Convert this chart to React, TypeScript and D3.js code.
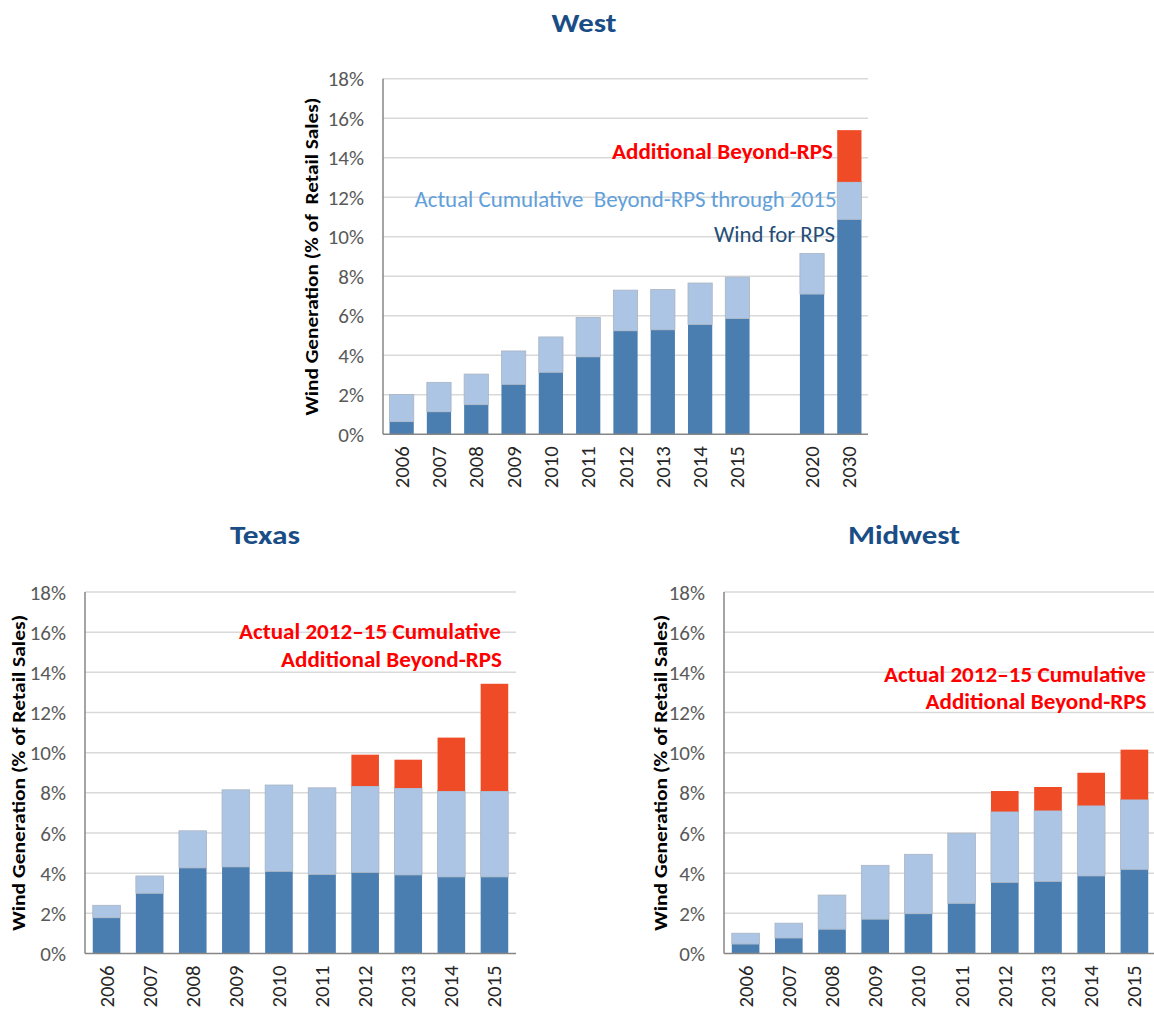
import React from "react";
import * as d3 from "d3";

const FONT = "Carlito, Calibri, Lato, 'Open Sans', sans-serif";

// ---------- Data ----------
const westYears = ["2006", "2007", "2008", "2009", "2010", "2011", "2012", "2013", "2014", "2015", "gap", "2020", "2030"];
const westWindForRPS = [0.64, 1.14, 1.5, 2.53, 3.14, 3.92, 5.24, 5.29, 5.56, 5.86, 0, 7.1, 10.88];
const westBeyondActual = [1.38, 1.49, 1.55, 1.69, 1.79, 2.0, 2.06, 2.04, 2.1, 2.1, 0, 2.06, 1.9];
const westAdditional = [0, 0, 0, 0, 0, 0, 0, 0, 0, 0, 0, 0, 2.62];

const years = ["2006", "2007", "2008", "2009", "2010", "2011", "2012", "2013", "2014", "2015"];
const texasWindForRPS = [1.78, 3.0, 4.26, 4.31, 4.09, 3.94, 4.04, 3.91, 3.81, 3.81];
const texasBeyond = [0.62, 0.86, 1.85, 3.84, 4.3, 4.31, 4.3, 4.33, 4.28, 4.28];
const texasAdditional = [0, 0, 0, 0, 0, 0, 1.56, 1.41, 2.66, 5.34];

const midwestWindForRPS = [0.47, 0.77, 1.21, 1.71, 1.98, 2.5, 3.54, 3.59, 3.86, 4.19];
const midwestBeyond = [0.54, 0.74, 1.7, 2.68, 2.96, 3.49, 3.53, 3.53, 3.51, 3.48];
const midwestAdditional = [0, 0, 0, 0, 0, 0, 1.02, 1.17, 1.63, 2.48];

const yTicks = [0, 2, 4, 6, 8, 10, 12, 14, 16, 18];
const seriesKeys = ["rps", "beyond", "additional"];
const seriesColors: Record<string, string> = {
  rps: "#4A7EB0",
  beyond: "#ADC5E4",
  additional: "#EE4B26",
};

type Annotation = { text: string; x: number; y: number; color: string; bold: boolean; size: number; len: number };

type PanelProps = {
  cats: string[];
  rps: number[];
  beyond: number[];
  additional: number[];
  x0: number;
  x1: number;
  yTop: number;
  yBottom: number;
  padding: number;
  axisTitle: string;
  axisTitleX: number;
  axisTitleLen: number;
  title: string;
  titleX: number;
  titleY: number;
  titleLen: number;
  annotations: Annotation[];
};

function Panel(p: PanelProps) {
  const x = d3.scaleBand<string>().domain(p.cats).range([p.x0, p.x1]).paddingInner(p.padding).paddingOuter(p.padding / 2);
  const y = d3.scaleLinear().domain([0, 18]).range([p.yBottom, p.yTop]);
  const rows = p.cats.map((c, i) => ({ cat: c, rps: p.rps[i], beyond: p.beyond[i], additional: p.additional[i] }));
  const stack = d3.stack<any>().keys(seriesKeys)(rows);
  return (
    <g>
      <text
        x={p.titleX}
        y={p.titleY}
        textAnchor="middle"
        fontFamily={FONT}
        fontWeight="bold"
        fontSize={26}
        fill="#1A4D86"
        textLength={p.titleLen}
        lengthAdjust="spacingAndGlyphs"
      >
        {p.title}
      </text>
      {yTicks.filter((t) => t > 0).map((t) => (
        <line key={t} x1={p.x0} x2={p.x1} y1={y(t)} y2={y(t)} stroke="#D9D9D9" strokeWidth={1.5} />
      ))}
      {yTicks.map((t) => (
        <text key={"l" + t} x={p.x0 - 19} y={y(t)} dy="0.36em" textAnchor="end" fontFamily={FONT} fontSize={21} fill="#595959">
          {t}%
        </text>
      ))}
      {stack.map((s) =>
        s.map((d, i) => {
          if (d[1] - d[0] <= 0) return null;
          const cat = p.cats[i];
          return (
            <rect
              key={s.key + cat}
              x={x(cat)}
              width={x.bandwidth()}
              y={y(d[1])}
              height={y(d[0]) - y(d[1])}
              fill={seriesColors[s.key]}
              stroke={s.key === "beyond" ? "#A9B4C2" : "none"}
              strokeWidth={0.8}
            />
          );
        })
      )}
      <line x1={p.x0} x2={p.x0} y1={p.yTop} y2={p.yBottom} stroke="#868686" strokeWidth={1.5} />
      <line x1={p.x0} x2={p.x1} y1={p.yBottom} y2={p.yBottom} stroke="#868686" strokeWidth={1.5} />
      {p.cats.filter((c) => c !== "gap").map((c) => (
        <text
          key={"x" + c}
          transform={`translate(${(x(c) as number) + x.bandwidth() / 2},${p.yBottom + 12}) rotate(-90)`}
          textAnchor="end"
          dominantBaseline="central"
          fontFamily={FONT}
          fontSize={20.5}
          fill="#262626"
          textLength={42}
          lengthAdjust="spacingAndGlyphs"
        >
          {c}
        </text>
      ))}
      <text
        transform={`translate(${p.axisTitleX},${(p.yTop + p.yBottom) / 2}) rotate(-90)`}
        textAnchor="middle"
        dominantBaseline="central"
        fontFamily={FONT}
        fontWeight="bold"
        fontSize={18.5}
        fill="#000"
        textLength={p.axisTitleLen}
        lengthAdjust="spacingAndGlyphs"
        style={{ whiteSpace: "pre" }}
      >
        {p.axisTitle}
      </text>
      {p.annotations.map((a, i) => (
        <text
          key={"a" + i}
          x={a.x}
          y={a.y}
          textAnchor="end"
          fontFamily={FONT}
          fontWeight={a.bold ? "bold" : "normal"}
          fontSize={a.size}
          fill={a.color}
          textLength={a.len}
          lengthAdjust="spacingAndGlyphs"
          style={{ whiteSpace: "pre" }}
        >
          {a.text}
        </text>
      ))}
    </g>
  );
}

export default function App() {
  return (
    <svg width={1154} height={1013} style={{ position: "absolute", left: 0, top: 0, background: "#fff" }}>
      <rect width={1154} height={1013} fill="#fff" />
      <Panel
        cats={westYears}
        rps={westWindForRPS}
        beyond={westBeyondActual}
        additional={westAdditional}
        x0={383}
        x1={868}
        yTop={78.8}
        yBottom={434.3}
        padding={0.35}
        axisTitle="Wind Generation (% of  Retail Sales)"
        axisTitleX={311}
        axisTitleLen={318}
        title="West"
        titleX={584}
        titleY={32}
        titleLen={65}
        annotations={[
          { text: "Additional Beyond-RPS", x: 833, y: 159, color: "#FF0000", bold: true, size: 21.5, len: 221 },
          { text: "Actual Cumulative  Beyond-RPS through 2015", x: 836.5, y: 207, color: "#62A0DA", bold: false, size: 21.5, len: 422 },
          { text: "Wind for RPS", x: 835, y: 242, color: "#254E78", bold: false, size: 21.5, len: 121 },
        ]}
      />
      <Panel
        cats={years}
        rps={texasWindForRPS}
        beyond={texasBeyond}
        additional={texasAdditional}
        x0={85}
        x1={516}
        yTop={592}
        yBottom={953.5}
        padding={0.36}
        axisTitle="Wind Generation (% of Retail Sales)"
        axisTitleX={18}
        axisTitleLen={316}
        title="Texas"
        titleX={265}
        titleY={544}
        titleLen={70}
        annotations={[
          { text: "Actual 2012–15 Cumulative", x: 501, y: 639, color: "#FF0000", bold: true, size: 21.5, len: 262 },
          { text: "Additional Beyond-RPS", x: 502, y: 667, color: "#FF0000", bold: true, size: 21.5, len: 221 },
        ]}
      />
      <Panel
        cats={years}
        rps={midwestWindForRPS}
        beyond={midwestBeyond}
        additional={midwestAdditional}
        x0={724}
        x1={1156}
        yTop={592}
        yBottom={953.5}
        padding={0.36}
        axisTitle="Wind Generation (% of Retail Sales)"
        axisTitleX={660}
        axisTitleLen={316}
        title="Midwest"
        titleX={904}
        titleY={544}
        titleLen={112}
        annotations={[
          { text: "Actual 2012–15 Cumulative", x: 1146, y: 682, color: "#FF0000", bold: true, size: 21.5, len: 262 },
          { text: "Additional Beyond-RPS", x: 1146.5, y: 709, color: "#FF0000", bold: true, size: 21.5, len: 221 },
        ]}
      />
    </svg>
  );
}
